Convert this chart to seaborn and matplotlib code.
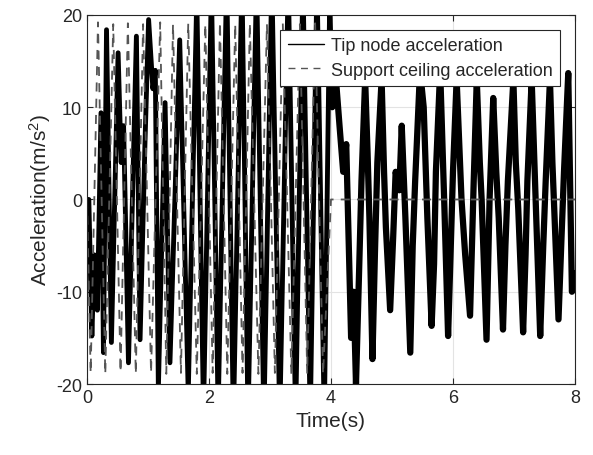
import numpy as np
import pandas as pd
import matplotlib
matplotlib.use('Agg')
import matplotlib.pyplot as plt
import seaborn as sns

# 지지 천장 가속도 (극값 위치를 그림에서 읽음)
ceil_t = [0.00, 0.06, 0.18, 0.30, 0.43, 0.55, 0.67, 0.80, 0.92, 1.05, 1.20, 1.30,
          1.41, 1.54, 1.66, 1.80, 1.94, 2.06, 2.18, 2.30, 2.43, 2.55, 2.67, 2.81,
          2.95, 3.08, 3.21, 3.35, 3.49, 3.61, 3.74, 3.87, 4.00, 8.00]
ceil_a = [0.0, -18.8, 19.2, -18.9, 19.0, -18.7, 19.1, -18.9, 19.0, -18.8, 19.2, -18.9,
          19.0, -18.8, 19.1, -18.9, 19.0, -18.8, 19.2, -18.9, 19.0, -18.8, 19.1, -18.9,
          19.0, -18.8, 19.1, -18.9, 19.0, -18.8, 19.1, -18.9, 0.0, 0.0]

# 끝단 노드 가속도 (4초 전: 가진 구간)
tip_t1 = [0.00, 0.03, 0.08, 0.12, 0.17, 0.23, 0.27, 0.32, 0.40, 0.51, 0.56, 0.60,
          0.68, 0.81, 0.87, 0.95, 1.01, 1.08, 1.12, 1.17, 1.28, 1.36, 1.52, 1.66,
          1.80, 1.91, 2.04, 2.15, 2.29, 2.40, 2.54, 2.64, 2.78, 2.90, 3.03, 3.16,
          3.30, 3.42, 3.54, 3.66, 3.77, 3.89, 3.98, 4.02]
tip_a1 = [0.0, 0.0, -14.8, -6.0, -12.0, 9.4, -16.6, 18.4, -15.5, 15.9, 4.0, 8.0,
          -17.7, 17.7, -15.2, 6.0, 19.5, 12.0, 14.0, -20.5, 10.5, -17.7, 17.3, -21.0,
          22.0, -23.0, 23.0, -23.0, 24.0, -24.0, 24.0, -24.0, 24.0, -24.0, 24.0, -24.0,
          24.0, -24.0, 24.0, -24.0, 24.0, -24.0, 22.0, 10.0]

# 끝단 노드 가속도 (4초 후: 자유 진동 구간)
tip_t2 = [4.02, 4.07, 4.14, 4.20, 4.25, 4.33, 4.37, 4.41, 4.46, 4.50, 4.56, 4.60,
          4.63, 4.68, 4.72, 4.76, 4.83, 4.87, 4.90, 4.97, 5.02, 5.06, 5.12, 5.16,
          5.22, 5.30, 5.34, 5.38, 5.46, 5.52, 5.58, 5.65, 5.69, 5.72, 5.79, 5.86,
          5.92, 5.96, 6.00, 6.06, 6.14, 6.20, 6.28, 6.34, 6.39, 6.44, 6.47, 6.55,
          6.60, 6.66, 6.71, 6.75, 6.82, 6.86, 6.90, 6.99, 7.03, 7.07, 7.15, 7.19,
          7.22, 7.29, 7.33, 7.36, 7.43, 7.48, 7.52, 7.59, 7.63, 7.66, 7.73, 7.78,
          7.82, 7.89, 7.95, 8.00]
tip_a2 = [10.0, 14.0, 8.0, 3.0, 6.0, -15.0, -10.0, -20.0, -8.0, 2.0, 13.0, 5.0,
          -2.0, -17.3, -6.0, 4.0, 13.0, 3.0, -3.0, -12.0, -4.0, 3.0, 1.0, 8.0,
          -2.0, -16.6, -5.0, 2.0, 14.0, 10.0, -2.0, -13.7, -7.0, 3.0, 14.0, -1.0,
          -14.8, -6.0, 3.0, 13.0, 0.0, -6.0, -12.6, 2.0, 13.0, 4.0, 0.0, -15.2,
          0.0, 11.0, 3.0, -2.0, -14.1, -5.0, 2.0, 13.0, 4.0, -1.0, -14.4, -6.0,
          2.0, 13.0, 5.0, -1.0, -14.8, -5.0, 2.0, 13.0, 4.0, -1.0, -13.0, -4.0,
          3.0, 13.7, -10.0, -8.0]

tip1_df = pd.DataFrame({'Time': tip_t1, 'Acc': tip_a1})
tip2_df = pd.DataFrame({'Time': tip_t2, 'Acc': tip_a2})
ceil_df = pd.DataFrame({'Time': ceil_t, 'Acc': ceil_a})

sns.set_style('white')
plt.rcParams['font.family'] = ['Liberation Sans', 'DejaVu Sans']
plt.rcParams['mathtext.default'] = 'regular'
plt.rcParams['axes.unicode_minus'] = False

fig = plt.figure(figsize=(5.93, 4.56), dpi=100)
ax = fig.add_axes([0.1467, 0.1557, 0.8229, 0.8093])

sns.lineplot(data=tip1_df, x='Time', y='Acc', ax=ax, color='black', linewidth=3.5,
             estimator=None, sort=False, label='Tip node acceleration')
sns.lineplot(data=tip2_df, x='Time', y='Acc', ax=ax, color='black', linewidth=4.5,
             estimator=None, sort=False, legend=False)
sns.lineplot(data=ceil_df, x='Time', y='Acc', ax=ax, color='#555555', linewidth=1.3,
             estimator=None, sort=False, label='Support ceiling acceleration')
ax.lines[-1].set_dashes((5, 4))

ax.set_xlim(0, 8)
ax.set_ylim(-20, 20)
ax.set_xticks([0, 2, 4, 6, 8])
ax.set_yticks([-20, -10, 0, 10, 20])
ax.grid(True, color='#e3e3e3', linewidth=0.8)
ax.set_axisbelow(True)
for s in ax.spines.values():
    s.set_color('#262626')
    s.set_linewidth(0.8)
ax.tick_params(direction='in', length=4, labelsize=13, colors='#262626',
               top=True, right=True, bottom=True, left=True)
ax.set_xlabel('Time(s)', fontsize=15, color='#262626')
ax.set_ylabel('Acceleration(m/s$^2$)', fontsize=15, color='#262626', labelpad=2)

leg = ax.legend(loc='upper right', bbox_to_anchor=(0.969, 0.959), borderaxespad=0,
                fontsize=13, frameon=True, fancybox=False, framealpha=1,
                edgecolor='#262626', handlelength=2.0, borderpad=0.4,
                labelspacing=0.4, handletextpad=0.4)
leg.get_frame().set_linewidth(0.8)
for ln in leg.get_lines():
    ln.set_linewidth(1)

fig.savefig('out.png', dpi=100)
